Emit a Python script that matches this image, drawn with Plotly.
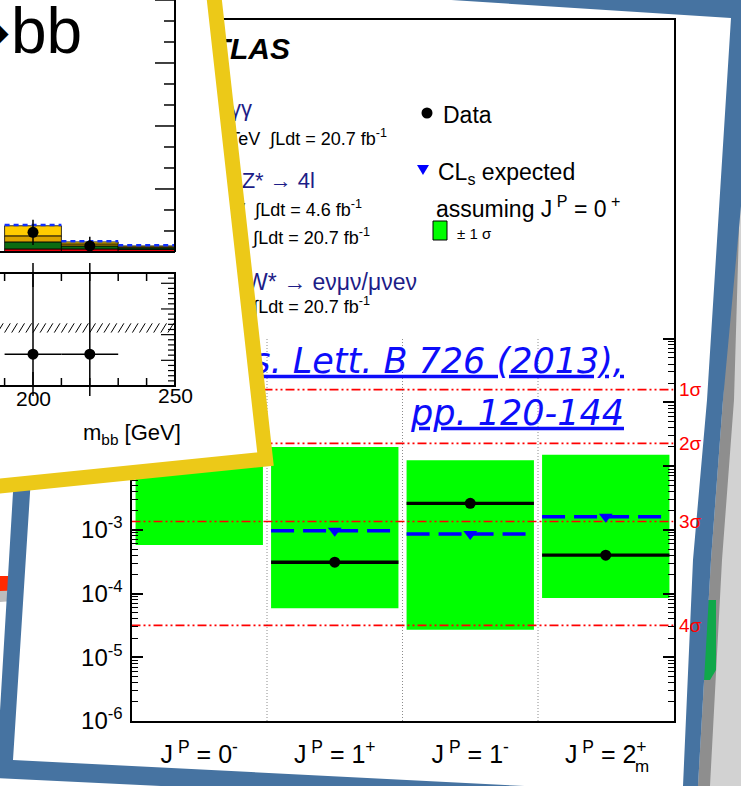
import math
import plotly.graph_objects as go

W, H = 741, 786

# ---- spin-parity summary: CLs of alternative J^P hypotheses ----
hypotheses = ["0-", "1+", "1-", "2+m"]
hypothesis_labels = [
    "J<sup>\u00a0P</sup> = 0<sup>-</sup>",
    "J<sup>\u00a0P</sup> = 1<sup>+</sup>",
    "J<sup>\u00a0P</sup> = 1<sup>-</sup>",
    "J<sup>\u00a0P</sup> = 2<sup>+</sup>",
]
cls_observed = [0.022, 3.1e-4, 2.6e-3, 4.0e-4]
cls_expected = [0.015, 9.7e-4, 8.6e-4, 1.6e-3]
band_low = [5.8e-4, 5.9e-5, 2.7e-5, 8.5e-5]
band_high = [0.06, 0.020, 0.0123, 0.015]

sigma_labels = ["1σ", "2σ", "3σ", "4σ"]
sigma_pvalues = [0.1587, 0.02275, 0.00135, 3.17e-5]

decades = list(range(-6, 6))
y_tick_values = [10.0 ** d for d in decades]
y_tick_text = [f"10<sup>{d}</sup>" for d in decades]
right_axis_decades = list(range(-6, 1))

# ---- H -> bb mass plot (inset slide): stacked backgrounds per 20 GeV bin ----
bb_bin_edges = [190, 210, 230, 250]
bb_red = [1.2, 1.2, 1.0]
bb_green = [2.8, 1.2, 0.6]
bb_gold = [2.4, 0.8, 0.4]
bb_yellow = [4.0, 0.8, 0.4]
bb_data_mass = [200, 220]
bb_data_events = [7.8, 2.4]
bb_data_error = [5.0, 3.6]
bb_ratio = [0.62, 0.62]
bb_ratio_band = [1.04, 1.22]

FONT = "Liberation Sans"
BLUE_FRAME = "#4673a1"
YELLOW = "#ecc918"
NAVY = "#1d1d87"
LINK = "#0d0dfa"

# pixel scale of the inset mass axis
GEV_PX = 2.84
X250_PX = 175


def fx(px):
    return px / W


def fy(py):
    return 1 - py / H


def poly(points):
    return "M " + " L ".join(f"{fx(x):.5f},{fy(y):.5f}" for x, y in points) + " Z"


fig = go.Figure()

# ---------------- main summary plot ----------------
band_x, band_y = [], []
for i, (lo, hi) in enumerate(zip(band_low, band_high)):
    x0, x1 = i + 0.03, i + 0.97
    band_x += [x0, x1, x1, x0, x0, None]
    band_y += [lo, lo, hi, hi, lo, None]
fig.add_trace(go.Scatter(x=band_x, y=band_y, mode="lines", fill="toself",
                         fillcolor="#00ff00", line=dict(width=0), hoverinfo="skip"))

sig_x, sig_y = [], []
for p in sigma_pvalues:
    sig_x += [0, 4, None]
    sig_y += [p, p, None]
fig.add_trace(go.Scatter(x=sig_x, y=sig_y, mode="lines",
                         line=dict(color="#ff0000", width=1.6,
                                   dash="9px,3px,2px,3px,2px,3px"),
                         hoverinfo="skip"))

sep_x, sep_y = [], []
for k in range(1, len(hypotheses)):
    sep_x += [k, k, None]
    sep_y += [1e-6, 1.0, None]
fig.add_trace(go.Scatter(x=sep_x, y=sep_y, mode="lines", yaxis="y5",
                         line=dict(color="#8c8c8c", width=1, dash="1px,2px"),
                         hoverinfo="skip"))

exp_x, exp_y, obs_x, obs_y = [], [], [], []
for i, (e, o) in enumerate(zip(cls_expected, cls_observed)):
    exp_x += [i + 0.03, i + 0.97, None]
    exp_y += [e, e, None]
    obs_x += [i + 0.03, i + 0.97, None]
    obs_y += [o, o, None]
centers = [i + 0.5 for i in range(len(hypotheses))]

fig.add_trace(go.Scatter(x=exp_x, y=exp_y, mode="lines",
                         line=dict(color="#0000ff", width=3.5, dash="23px,9px"),
                         hoverinfo="skip"))
fig.add_trace(go.Scatter(x=centers, y=cls_expected, mode="markers",
                         marker=dict(symbol="triangle-down", size=12, color="#0000ff"),
                         hoverinfo="skip"))
fig.add_trace(go.Scatter(x=obs_x, y=obs_y, mode="lines",
                         line=dict(color="black", width=3.3), hoverinfo="skip"))
fig.add_trace(go.Scatter(x=centers, y=cls_observed, mode="markers",
                         marker=dict(symbol="circle", size=11, color="black"),
                         hoverinfo="skip"))

# ---------------- header text of the summary slide (pixel overlay) ----------------
def text_trace(text, x, y, size, color="black", family=FONT, position="middle left"):
    fig.add_trace(go.Scatter(x=[x], y=[y], mode="text", text=[text],
                             textposition=position, xaxis="x4", yaxis="y4",
                             textfont=dict(size=size, color=color, family=family),
                             cliponaxis=False, hoverinfo="skip"))


text_trace("<b><i>ATLAS</i></b>", 290, 51, 30)
text_trace("H → γγ", 252, 110, 22, NAVY)
text_trace("√s = 8 TeV  ∫Ldt = 20.7 fb<sup>-1</sup>", 387, 140, 18)
text_trace("H → ZZ* → 4l", 315, 182, 22, NAVY)
text_trace("√s = 7 TeV  ∫Ldt = 4.6 fb<sup>-1</sup>", 362, 211, 18)
text_trace("√s = 8 TeV  ∫Ldt = 20.7 fb<sup>-1</sup>", 370, 239, 18)
text_trace("H → WW* → eνμν/μνeν", 417, 284, 23, NAVY)
text_trace("√s = 8 TeV  ∫Ldt = 20.7 fb<sup>-1</sup>", 370, 308, 18)
text_trace("<u><i>Phys. Lett. B 726 (2013),</i></u>", 624, 364, 35, LINK, "DejaVu Sans")
text_trace("<u><i>pp. 120-144</i></u>", 624, 416, 35, LINK, "DejaVu Sans")

# empty traces so the inset subplots exist
fig.add_trace(go.Scatter(x=[], y=[], xaxis="x2", yaxis="y2", hoverinfo="skip"))
fig.add_trace(go.Scatter(x=[], y=[], xaxis="x2", yaxis="y3", hoverinfo="skip"))

# ---------------- shapes ----------------
shapes = []

# page shadows and objects behind the framed slide
shapes.append(dict(type="path", xref="paper", yref="paper", layer="below",
                   path=poly([(738, 70), (723, 400), (711, 560), (698, 786),
                              (741, 786), (741, 70)]),
                   fillcolor="#d2d2d2", line=dict(width=0)))
shapes.append(dict(type="path", xref="paper", yref="paper", layer="below",
                   path=poly([(738, 110), (723, 400), (711, 560), (698, 786),
                              (710, 786), (722, 560), (734, 400), (741, 160)]),
                   fillcolor="#8e8e8e", line=dict(width=0)))
shapes.append(dict(type="path", xref="paper", yref="paper", layer="below",
                   path=poly([(700, 600), (716, 600), (716, 670), (710, 680), (700, 680)]),
                   fillcolor="#10a84a", line=dict(width=0)))
shapes.append(dict(type="path", xref="paper", yref="paper", layer="below",
                   path=poly([(0, 590), (26, 590), (26, 600), (0, 602)]),
                   fillcolor="#bdbdbd", line=dict(width=0)))
shapes.append(dict(type="path", xref="paper", yref="paper", layer="below",
                   path=poly([(0, 576), (26, 576), (26, 590), (0, 591)]),
                   fillcolor="#ff2a00", line=dict(width=0)))

# blue slide frame and white slide
frame_outer = [(45, -45), (760, 1), (723, 400), (711, 560), (698, 786), (697, 812), (-4, 778)]
frame_inner = [(63, -25), (731, 18), (707, 400), (693, 560), (683, 786), (682, 794), (13, 760)]
shapes.append(dict(type="path", xref="paper", yref="paper", layer="below",
                   path=poly(frame_outer), fillcolor=BLUE_FRAME, line=dict(width=0)))
shapes.append(dict(type="path", xref="paper", yref="paper", layer="below",
                   path=poly(frame_inner), fillcolor="white", line=dict(width=0)))

# legend symbols
shapes.append(dict(type="circle", xref="paper", yref="paper", layer="above",
                   x0=fx(421.5), x1=fx(432.5), y0=fy(118.5), y1=fy(107.5),
                   fillcolor="black", line=dict(width=0)))
shapes.append(dict(type="path", xref="paper", yref="paper", layer="above",
                   path=poly([(417, 165), (429, 165), (423, 175)]),
                   fillcolor="#0000ff", line=dict(width=0)))
shapes.append(dict(type="rect", xref="paper", yref="paper", layer="above",
                   x0=fx(433), x1=fx(447), y0=fy(240), y1=fy(221),
                   fillcolor="#00ff00", line=dict(color="black", width=1)))

# inset slide (H -> bb) with yellow border
shapes.append(dict(type="path", xref="paper", yref="paper", layer="above",
                   path=poly([(-30, -30), (211, -30), (265.5, 459), (-30, 489)]),
                   fillcolor="white", line=dict(color=YELLOW, width=15)))

# stacked background histogram
bottom = [0.0] * len(bb_red)
for comp, color in [(bb_red, "#e8000b"), (bb_green, "#0b6b12"),
                    (bb_gold, "#d9a400"), (bb_yellow, "#ffcc00")]:
    for i, v in enumerate(comp):
        shapes.append(dict(type="rect", xref="x2", yref="y2", layer="above",
                           x0=bb_bin_edges[i], x1=bb_bin_edges[i + 1],
                           y0=bottom[i], y1=bottom[i] + v,
                           fillcolor=color, line=dict(color="black", width=0.8)))
        bottom[i] += v
for i, top in enumerate(bottom):
    shapes.append(dict(type="line", xref="x2", yref="y2", layer="above",
                       x0=bb_bin_edges[i], x1=bb_bin_edges[i + 1], y0=top + 0.3, y1=top + 0.3,
                       line=dict(color="#1030ff", width=2.5, dash="5px,4px")))

# inset main-panel axes
shapes.append(dict(type="line", xref="x2", yref="y2", layer="above",
                   x0=bb_bin_edges[0] - 10, x1=250, y0=0, y1=0,
                   line=dict(color="black", width=2)))
shapes.append(dict(type="line", xref="x2", yref="y2", layer="above",
                   x0=250, x1=250, y0=0, y1=100, line=dict(color="black", width=2)))
for k in range(1, 13):
    val = k * 25 / 3
    major = k % 3 == 0
    shapes.append(dict(type="line", xref="x2", yref="y2", layer="above",
                       xsizemode="pixel", xanchor=250, x0=-(20 if major else 11), x1=0,
                       y0=val, y1=val, line=dict(color="black", width=1.5)))

# inset data points
for m, v, e in zip(bb_data_mass, bb_data_events, bb_data_error):
    shapes.append(dict(type="line", xref="x2", yref="y2", layer="above",
                       x0=m, x1=m, y0=max(v - e, 0), y1=v + e,
                       line=dict(color="black", width=1.5)))
    shapes.append(dict(type="circle", xref="x2", yref="y2", layer="above",
                       xsizemode="pixel", ysizemode="pixel", xanchor=m, yanchor=v,
                       x0=-5.5, x1=5.5, y0=-5.5, y1=5.5,
                       fillcolor="black", line=dict(width=0)))

# ratio panel
shapes.append(dict(type="rect", xref="x2", yref="y3", layer="above",
                   x0=170, x1=250, y0=0, y1=2.2, line=dict(color="black", width=2)))
hatch = []
x = 180.0
while x < 249:
    hatch.append(f"M {x:.2f},{bb_ratio_band[0]} L {x + 2.0:.2f},{bb_ratio_band[1]}")
    x += 2.5
shapes.append(dict(type="path", xref="x2", yref="y3", layer="above",
                   path=" ".join(hatch), line=dict(color="black", width=1)))
for k in range(1, 22):
    val = k / 10
    major = k % 5 == 0
    shapes.append(dict(type="line", xref="x2", yref="y3", layer="above",
                       xsizemode="pixel", xanchor=250, x0=-(14 if major else 7), x1=0,
                       y0=val, y1=val, line=dict(color="black", width=1.2)))
for m in range(190, 250, 10):
    ln = 14 if m == 200 else 8
    for anchor, sign in [(2.2, -1), (0.0, 1)]:
        shapes.append(dict(type="line", xref="x2", yref="y3", layer="above",
                           ysizemode="pixel", yanchor=anchor, y0=0, y1=sign * ln,
                           x0=m, x1=m, line=dict(color="black", width=1.5)))
for m, r in zip(bb_data_mass, bb_ratio):
    shapes.append(dict(type="line", xref="x2", yref="y3", layer="above",
                       x0=m - 10, x1=m + 10, y0=r, y1=r, line=dict(color="black", width=1.5)))
    shapes.append(dict(type="line", xref="x2", yref="y3", layer="above",
                       x0=m, x1=m, y0=-0.3, y1=2.5, line=dict(color="black", width=1.5)))
    shapes.append(dict(type="circle", xref="x2", yref="y3", layer="above",
                       xsizemode="pixel", ysizemode="pixel", xanchor=m, yanchor=r,
                       x0=-5.5, x1=5.5, y0=-5.5, y1=5.5,
                       fillcolor="black", line=dict(width=0)))

# ---------------- annotations ----------------
annotations = []


def ann(text, x, y, size, color="black", xanchor="left", xref="paper", yref="paper",
        family=FONT):
    annotations.append(dict(text=text, x=x, y=y, xref=xref, yref=yref,
                            xanchor=xanchor, yanchor="middle", showarrow=False,
                            font=dict(size=size, color=color, family=family)))


ann("Data", fx(441), fy(115), 23)
ann("CL<sub>s</sub> expected", fx(436), fy(173), 23)
ann("assuming J<sup>\u00a0P</sup> = 0<sup>\u00a0+</sup>", fx(434), fy(207), 23)
ann("± 1 σ", fx(455), fy(234), 15)
for lab, p in zip(sigma_labels, sigma_pvalues):
    ann(lab, fx(677), math.log10(p), 19, "#ff0000", yref="y")
ann("m", 3.5 + 36 / 135.5, fy(766), 17, xanchor="center", xref="x")

ann("bb", fx(84), fy(31), 64, xanchor="right")
ann("➔", fx(13), fy(33), 40, xanchor="right", family="DejaVu Sans")
ann("200", 200, fy(398), 21, xanchor="center", xref="x2")
ann("250", 250, fy(396), 21, xanchor="center", xref="x2")
ann("m<sub>bb</sub> [GeV]", fx(132), fy(434), 22, xanchor="center")

# ---------------- layout ----------------
hidden = dict(visible=False, automargin=False)
fig.update_layout(
    width=W, height=H, autosize=False,
    margin=dict(l=0, r=0, t=0, b=0, pad=0, autoexpand=False),
    paper_bgcolor="white", plot_bgcolor="rgba(0,0,0,0)",
    showlegend=False,
    font=dict(family=FONT, color="black"),
    xaxis=dict(domain=[fx(131.5), fx(673.5)], range=[0, 4], anchor="y", automargin=False,
               showline=True, mirror=True, linecolor="black", linewidth=2,
               showgrid=False, zeroline=False, ticks="",
               tickmode="array", tickvals=centers, ticktext=hypothesis_labels,
               tickfont=dict(size=25, family=FONT, color="black"),
               ticklabelstandoff=10),
    yaxis=dict(domain=[fy(721), fy(20)], type="log", range=[-6, 5], anchor="x",
               automargin=False,
               showline=True, mirror=True, linecolor="black", linewidth=2,
               showgrid=False, zeroline=False,
               tickmode="array", tickvals=y_tick_values, ticktext=y_tick_text,
               ticks="inside", ticklen=11, tickwidth=1.5, tickcolor="black",
               tickfont=dict(size=24, family=FONT, color="black"),
               ticklabelstandoff=2,
               minor=dict(tickmode="array",
                          tickvals=[k * 10.0 ** d for d in range(-6, 5) for k in range(2, 10)],
                          ticks="inside", ticklen=6, tickwidth=1.2, tickcolor="black",
                          showgrid=False)),
    yaxis5=dict(overlaying="y", side="right", anchor="x", type="log", range=[-6, 5],
                automargin=False,
                showline=False, showgrid=False, zeroline=False, showticklabels=False,
                tickmode="array", tickvals=[10.0 ** d for d in right_axis_decades],
                ticks="inside", ticklen=11, tickwidth=1.5, tickcolor="black",
                minor=dict(tickmode="array",
                           tickvals=[k * 10.0 ** d for d in range(-6, 0) for k in range(2, 10)],
                           ticks="inside", ticklen=6, tickwidth=1.2, tickcolor="black",
                           showgrid=False)),
    xaxis2=dict(domain=[0, fx(205)],
                range=[250 - X250_PX / GEV_PX, 250 + (205 - X250_PX) / GEV_PX],
                anchor="y2", **hidden),
    yaxis2=dict(domain=[fy(255), 1], range=[-1.2, 100], anchor="x2", **hidden),
    yaxis3=dict(domain=[fy(396), fy(263)], range=[-0.195, 2.395], anchor="x2", **hidden),
    xaxis4=dict(domain=[0, 1], range=[0, W], anchor="y4", **hidden),
    yaxis4=dict(domain=[0, 1], range=[H, 0], anchor="x4", **hidden),
    shapes=shapes,
    annotations=annotations,
)

fig.write_html("out.html")
